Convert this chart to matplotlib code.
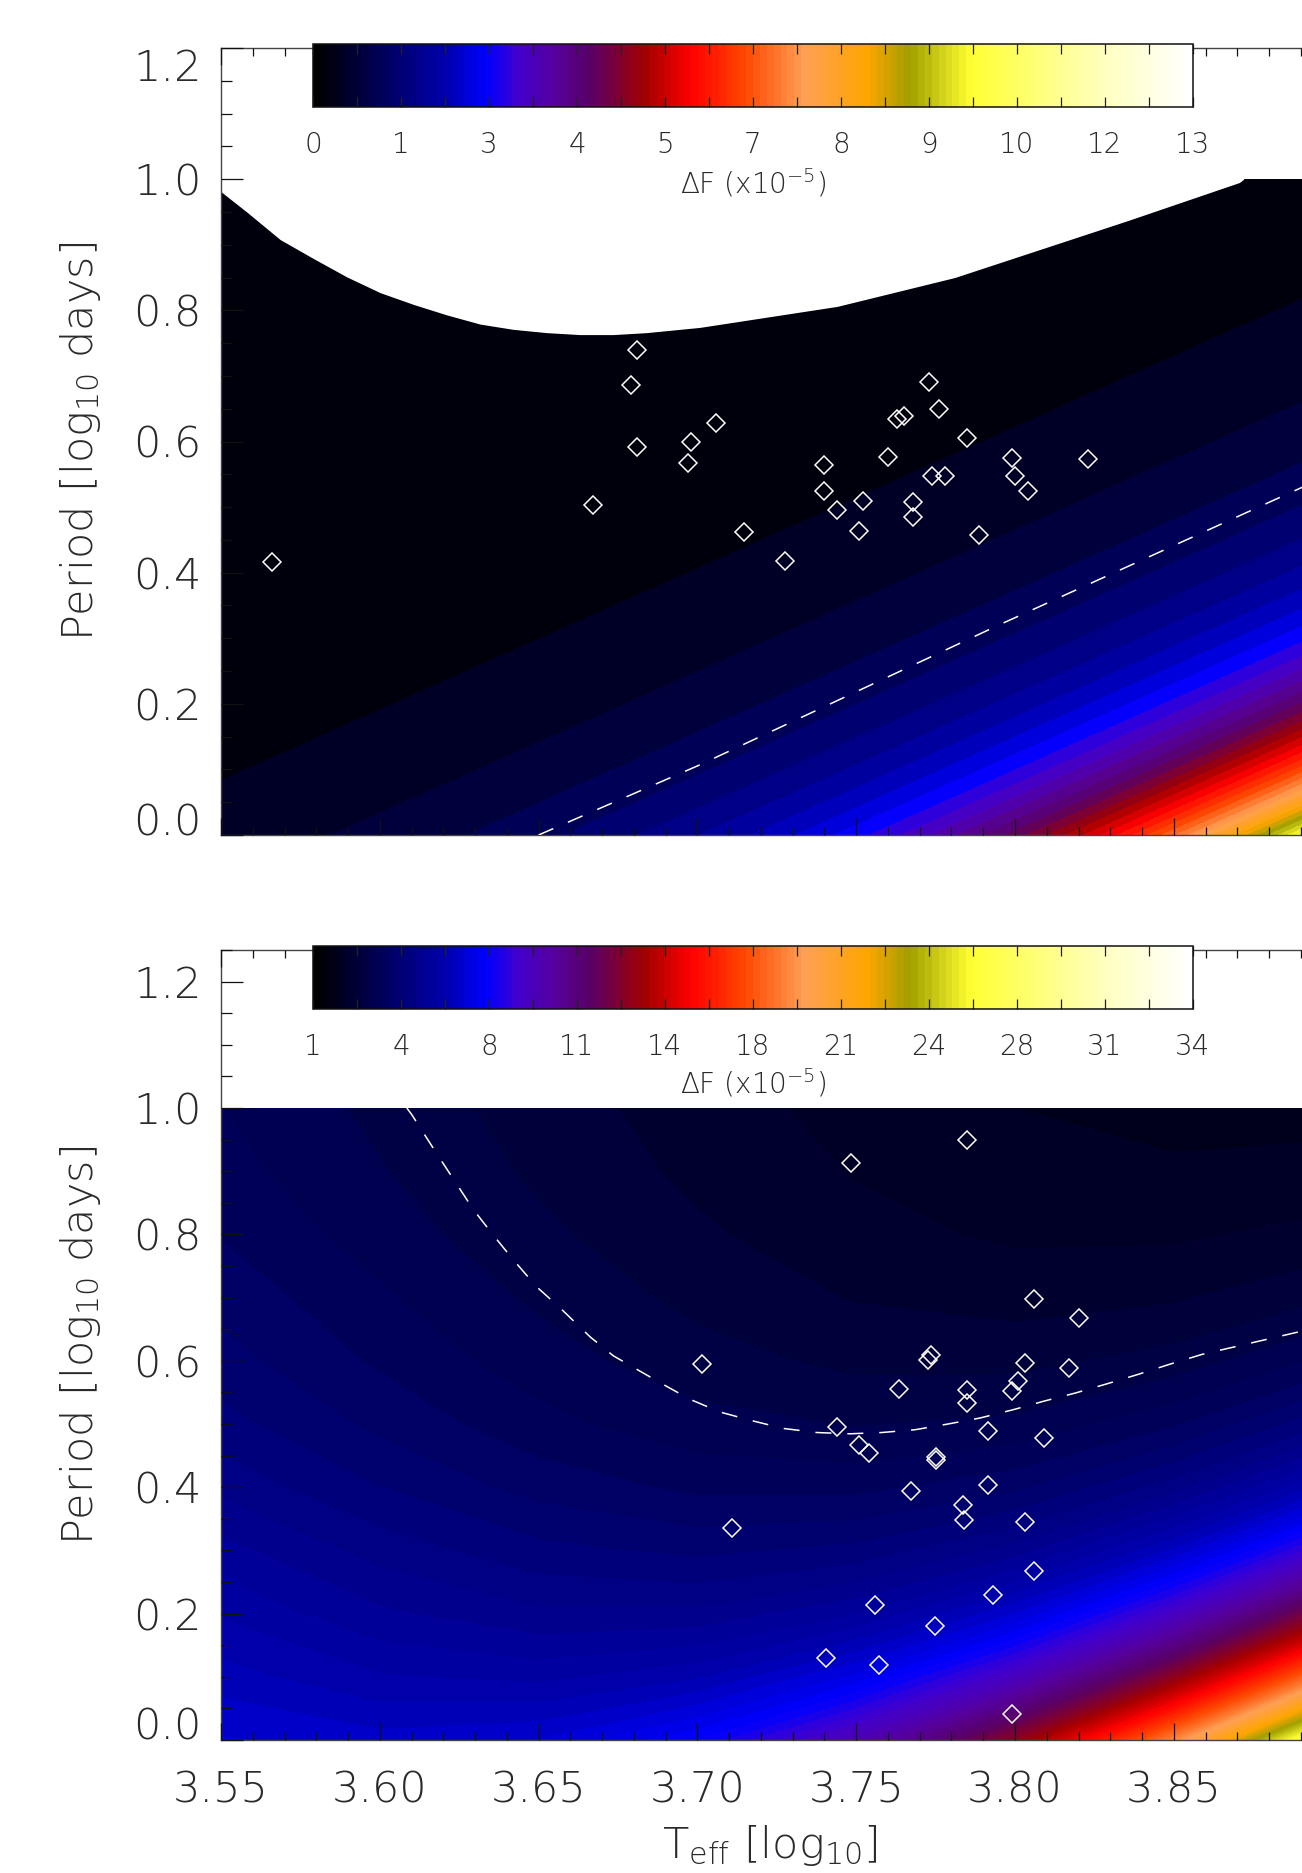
import os
import numpy as np
import matplotlib
matplotlib.use("Agg")
import matplotlib.pyplot as plt
from matplotlib import font_manager as fm
from matplotlib.colors import LinearSegmentedColormap, Normalize
from matplotlib.ticker import MultipleLocator, FixedLocator, FormatStrFormatter, FuncFormatter
from matplotlib.cm import ScalarMappable

# ---------------------------------------------------------------- data
teff_grid = [3.55, 3.60, 3.65, 3.70, 3.75, 3.80, 3.85, 3.90]
period_grid = [0.0, 0.1, 0.2, 0.3, 0.4, 0.5, 0.6, 0.7, 0.8, 0.9, 1.0]

# Delta F (x1e-5), rows = period_grid, columns = teff_grid (top panel)
dF_top = [
    [0.389, 0.626, 1.006, 1.618, 2.601, 4.183, 6.726, 10.82],
    [0.251, 0.403, 0.648, 1.042, 1.675, 2.694, 4.332, 6.968],
    [0.161, 0.260, 0.417, 0.671, 1.079, 1.735, 2.789, 4.487],
    [0.104, 0.167, 0.269, 0.432, 0.695, 1.117, 1.797, 2.890],
    [0.067, 0.108, 0.173, 0.278, 0.447, 0.719, 1.157, 1.861],
    [0.043, 0.069, 0.111, 0.179, 0.288, 0.463, 0.745, 1.199],
    [0.028, 0.045, 0.072, 0.115, 0.185, 0.298, 0.480, 0.772],
    [0.018, 0.029, 0.046, 0.074, 0.119, 0.192, 0.309, 0.497],
    [0.012, 0.019, 0.030, 0.048, 0.077, 0.124, 0.199, 0.320],
    [0.007, 0.012, 0.019, 0.031, 0.050, 0.080, 0.128, 0.207],
    [0.005, 0.008, 0.012, 0.020, 0.032, 0.051, 0.083, 0.133],
]

# bottom panel
dF_bot = [
    [6.54, 6.32, 6.51, 7.39, 9.29, 12.81, 18.90, 29.03],
    [6.04, 5.63, 5.51, 5.85, 6.88, 8.99, 12.79, 19.23],
    [5.56, 5.06, 4.76, 4.78, 5.28, 6.49, 8.83, 12.90],
    [5.11, 4.58, 4.19, 4.02, 4.19, 4.84, 6.26, 8.80],
    [4.62, 4.10, 3.68, 3.43, 3.41, 3.72, 4.56, 6.14],
    [4.21, 3.72, 3.30, 3.01, 2.88, 2.98, 3.45, 4.42],
    [3.92, 3.45, 3.04, 2.72, 2.52, 2.50, 2.73, 3.30],
    [3.70, 3.25, 2.84, 2.51, 2.28, 2.18, 2.26, 2.58],
    [3.48, 3.06, 2.67, 2.35, 2.10, 1.95, 1.95, 2.11],
    [3.32, 2.92, 2.54, 2.23, 1.98, 1.80, 1.74, 1.80],
    [3.21, 2.82, 2.46, 2.15, 1.90, 1.70, 1.61, 1.60],
]

# upper limit of the model region in the top panel (white above)
mask_teff = [3.5497, 3.5581, 3.5686, 3.5791, 3.5896, 3.6001, 3.6106, 3.6211, 3.6316,
             3.6420, 3.6525, 3.6630, 3.6735, 3.6840, 3.7008, 3.744, 3.781, 3.8356,
             3.8707, 3.872]
mask_period = [0.982, 0.950, 0.908, 0.879, 0.851, 0.827, 0.809, 0.793, 0.779,
               0.771, 0.766, 0.763, 0.763, 0.766, 0.774, 0.806, 0.850, 0.937,
               0.995, 1.0]

# dashed curves
dash_top_teff = [3.65, 3.7008, 3.7953, 3.8876, 3.90]
dash_top_period = [0.0, 0.107, 0.321, 0.524, 0.551]

dash_bot_teff = [3.6085, 3.610, 3.6179, 3.6295, 3.6357, 3.642, 3.6494, 3.6567, 3.6662,
                 3.6735, 3.6882, 3.6977, 3.7071, 3.7166, 3.727, 3.7376, 3.748, 3.758,
                 3.7686, 3.7785, 3.789, 3.7995, 3.809, 3.819, 3.8289, 3.8389, 3.849,
                 3.8588, 3.8904]
dash_bot_period = [1.0, 0.990, 0.928, 0.839, 0.799, 0.760, 0.717, 0.684, 0.638,
                   0.608, 0.5655, 0.539, 0.519, 0.506, 0.493, 0.4865, 0.4845, 0.4865,
                   0.491, 0.4996, 0.5095, 0.5227, 0.536, 0.549, 0.5635, 0.5787, 0.595,
                   0.610, 0.647]

# stars
top_teff = [3.566, 3.667, 3.679, 3.681, 3.681, 3.697, 3.698, 3.7057, 3.7147, 3.7275,
            3.740, 3.740, 3.744, 3.751, 3.752, 3.760, 3.763, 3.765, 3.768, 3.768,
            3.773, 3.776, 3.7738, 3.778, 3.785, 3.7888, 3.799, 3.800, 3.804, 3.823]
top_period = [0.417, 0.503, 0.686, 0.739, 0.592, 0.567, 0.600, 0.628, 0.462, 0.418,
              0.564, 0.525, 0.495, 0.4635, 0.509, 0.5765, 0.635, 0.6385, 0.507, 0.4855,
              0.690, 0.6496, 0.5475, 0.5475, 0.6058, 0.458, 0.5748, 0.5475, 0.525, 0.573]

bot_teff = [3.7484, 3.785, 3.806, 3.820, 3.7015, 3.7735, 3.7727, 3.803, 3.817, 3.801,
            3.799, 3.7635, 3.785, 3.785, 3.744, 3.7916, 3.809, 3.751, 3.754, 3.775,
            3.775, 3.7674, 3.7916, 3.7837, 3.784, 3.803, 3.711, 3.806, 3.793, 3.756,
            3.7747, 3.7404, 3.7572, 3.799]
bot_period = [0.913, 0.950, 0.697, 0.667, 0.595, 0.609, 0.602, 0.596, 0.588, 0.5676,
              0.552, 0.5556, 0.5537, 0.534, 0.4957, 0.4897, 0.4786, 0.467, 0.4535, 0.448,
              0.443, 0.394, 0.404, 0.3725, 0.348, 0.3447, 0.335, 0.268, 0.230, 0.213,
              0.1807, 0.1294, 0.1188, 0.0405]

cbar_top_range = (0.0, 13.0)
cbar_bot_range = (0.8, 34.4)
cbar_top_labels = ["0", "1", "3", "4", "5", "7", "8", "9", "10", "12", "13"]
cbar_bot_labels = ["1", "4", "8", "11", "14", "18", "21", "24", "28", "31", "34"]

# ---------------------------------------------------------------- style
def pick_font():
    for fam in ["DejaVu Sans", "Roboto", "Lato", "Open Sans", "Noto Sans", "Inter"]:
        for w in (200, 300):
            try:
                path = fm.findfont(fm.FontProperties(family=fam, weight=w),
                                   fallback_to_default=False)
            except Exception:
                continue
            b = os.path.basename(path).lower()
            if "light" in b or "thin" in b:
                return fam, w
    return "DejaVu Sans", "normal"

fam, wgt = pick_font()
plt.rcParams["font.family"] = [fam, "DejaVu Sans"]
plt.rcParams["font.weight"] = wgt
plt.rcParams["mathtext.default"] = "regular"
plt.rcParams["lines.scale_dashes"] = False
TXT = "#2a2a2a"

cnodes = [
    (0.000, (0, 0, 0)), (0.100, (0, 0, 120)), (0.150, (0, 0, 175)),
    (0.195, (0, 0, 255)), (0.230, (65, 0, 205)), (0.270, (85, 0, 160)),
    (0.315, (90, 0, 100)), (0.375, (160, 0, 0)), (0.430, (255, 0, 0)),
    (0.490, (255, 70, 0)), (0.560, (255, 160, 85)), (0.630, (255, 165, 0)),
    (0.680, (160, 160, 0)), (0.750, (255, 255, 50)), (0.820, (255, 255, 115)),
    (0.900, (255, 255, 190)), (1.000, (255, 255, 255)),
]
cmap = LinearSegmentedColormap.from_list(
    "idl", [(p, tuple(c / 255 for c in rgb)) for p, rgb in cnodes], N=512)

W, H, DPI = 1302, 1873, 100
fig = plt.figure(figsize=(W / DPI, H / DPI), dpi=DPI)

def px_axes(left, top, right, bottom):
    return [left / W, 1 - bottom / H, (right - left) / W, (bottom - top) / H]

X_RIGHT = 1332.6
ax1 = fig.add_axes(px_axes(221, 48, X_RIGHT, 835))
ax2 = fig.add_axes(px_axes(221, 950, X_RIGHT, 1740))

TG, PG = np.meshgrid(teff_grid, period_grid)

def field(ax, data, vrange, nlev):
    vmin, vmax = vrange
    norm = Normalize(vmin, vmax)
    lev = np.linspace(vmin, vmax, nlev)
    lev_c = lev.copy()
    lev_c[0] = max(lev_c[0], 1e-4)
    cols = [cmap(norm(0.5 * (a + b))) for a, b in zip(lev[:-1], lev[1:])]
    ax.contourf(TG, PG, np.log(np.array(data)), levels=np.log(lev_c),
                colors=cols, antialiased=False, zorder=1)
    return norm

norm1 = field(ax1, dF_top, cbar_top_range, 49)
norm2 = field(ax2, dF_bot, cbar_bot_range, 113)

ax1.fill_between(mask_teff, mask_period, 1.03, color="white", lw=0, zorder=2)

for ax, (dt, dp) in ((ax1, (dash_top_teff, dash_top_period)),
                     (ax2, (dash_bot_teff, dash_bot_period))):
    ax.plot(dt, dp, color="white", lw=1.1, dashes=(11.5, 11.5), zorder=3)

ax1.plot(top_teff, top_period, ls="none", marker="D", ms=9.5, mfc="none",
         mec="white", mew=1.1, zorder=4)
ax2.plot(bot_teff, bot_period, ls="none", marker="D", ms=9.5, mfc="none",
         mec="white", mew=1.1, zorder=4)

xfmt = FuncFormatter(lambda v, pos: "" if v > 3.875 else "%.2f" % v)
for ax, ytop in ((ax1, 1.2), (ax2, 1.25)):
    ax.set_xlim(3.55, 3.90)
    ax.set_ylim(0.0, ytop)
    ax.set_axisbelow(False)
    ax.xaxis.set_major_locator(MultipleLocator(0.05))
    ax.xaxis.set_minor_locator(MultipleLocator(0.01))
    ax.xaxis.set_major_formatter(xfmt)
    ax.yaxis.set_major_locator(FixedLocator([0.0, 0.2, 0.4, 0.6, 0.8, 1.0, 1.2]))
    ax.yaxis.set_minor_locator(MultipleLocator(0.05))
    ax.yaxis.set_major_formatter(FormatStrFormatter("%.1f"))
    ax.tick_params(axis="y", which="major", direction="in", left=True, right=True,
                   length=15.8, width=0.9, color="#111111", labelsize=31,
                   labelcolor=TXT, pad=14)
    ax.tick_params(axis="y", which="minor", direction="in", left=True, right=True,
                   length=7.9, width=0.9, color="#111111")
    ax.tick_params(axis="x", which="major", direction="in", top=True, bottom=True,
                   length=12.2, width=0.9, color="#111111", labelsize=31,
                   labelcolor=TXT, pad=21)
    ax.tick_params(axis="x", which="minor", direction="in", top=True, bottom=True,
                   length=6.1, width=0.9, color="#111111")
    for sp in ax.spines.values():
        sp.set_linewidth(1.0)
        sp.set_color("#444444")
    for t, v in zip(ax.yaxis.get_major_ticks(), ax.get_yticks()):
        if abs(v) < 1e-9:
            t.label1.set_verticalalignment("baseline")
        if abs(v - ytop) < 1e-9:
            t.label1.set_verticalalignment("top")

ax1.tick_params(axis="x", labelbottom=False)

# y labels and x label
for yc in ((48 + 835) / 2, (950 + 1740) / 2):
    fig.text(81 / W, 1 - yc / H, "Period [log$_{10}$ days]", rotation=90,
             ha="center", va="center", fontsize=31, color=TXT)
fig.text(770 / W, 1 - 1845 / H, "T$_{eff}$ [log$_{10}$]", ha="center",
         va="center", fontsize=31, color=TXT)

# colour bars
for (top, bot, lab_y), vr, labels in (((44, 107, 183), cbar_top_range, cbar_top_labels),
                                      ((946, 1009, 1083), cbar_bot_range, cbar_bot_labels)):
    cax = fig.add_axes(px_axes(313, top, 1193, bot))
    sm = ScalarMappable(norm=Normalize(*vr), cmap=cmap.resampled(128))
    cb = fig.colorbar(sm, cax=cax, orientation="horizontal")
    tk = np.linspace(vr[0], vr[1], 11)
    cb.set_ticks(tk)
    cb.set_ticklabels(labels)
    cax.xaxis.set_minor_locator(FixedLocator(0.5 * (tk[:-1] + tk[1:])))
    cax.xaxis.set_ticks_position("both")
    cax.tick_params(which="both", direction="in", top=True, bottom=True, length=7,
                    width=0.9, color="#222222")
    cax.tick_params(which="major", labelsize=20, labelcolor=TXT, pad=17,
                    labeltop=False, labelbottom=True)
    cb.outline.set_linewidth(1.1)
    cb.outline.set_edgecolor("#111111")
    fig.text(753 / W, 1 - lab_y / H, "\u0394F (x10$^{-5}$)", ha="center",
             va="center", fontsize=20, color=TXT)

fig.savefig("out.png", dpi=DPI)
